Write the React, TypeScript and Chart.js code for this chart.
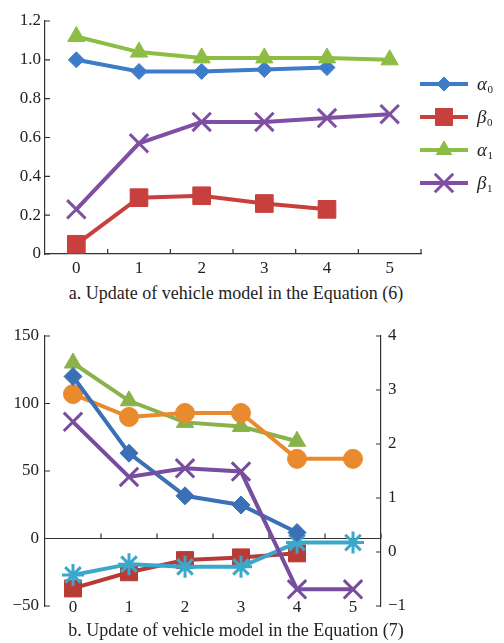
import React, { useEffect, useRef } from 'react';
import { Chart, registerables } from 'chart.js';
import { drawPoint } from 'chart.js/helpers';

Chart.register(...registerables);

// ---------- data ----------
const steps = ['0', '1', '2', '3', '4', '5'];

// chart a (Equation 6)
const alpha0 = [1.0, 0.94, 0.94, 0.95, 0.96, null];
const beta0 = [0.05, 0.29, 0.3, 0.26, 0.23, null];
const alpha1 = [1.12, 1.04, 1.01, 1.01, 1.01, 1.0];
const beta1 = [0.23, 0.57, 0.68, 0.68, 0.7, 0.72];
const yTicksA = [0, 0.2, 0.4, 0.6, 0.8, 1.0, 1.2];

// chart b (Equation 7) — left axis
const s01 = [-37, -25, -16, -14, -11, null];
const s02 = [130, 102, 86, 83, 72, null];
const s11 = [-27, -19, -21, -21, -3, -3];
const s12 = [107, 90, 93, 93, 59, 59];
// chart b — right axis
const s00 = [3.25, 1.83, 1.04, 0.87, 0.36, null];
const s10 = [2.41, 1.39, 1.55, 1.49, -0.69, -0.69];
const yTicksBLeft = [-50, 0, 50, 100, 150];
const yTicksBRight = [-1, 0, 1, 2, 3, 4];

const captionA = 'a. Update of vehicle model in the Equation (6)';
const captionB = 'b. Update of vehicle model in the Equation (7)';

const FONT = '"Liberation Serif", "Times New Roman", serif';
const AXIS = '#333';
const TEXT = '#222';
const TICK_SIZE = 17;

type LegendItem = { main: string; sub: string };

function legendPlugin(
  items: LegendItem[],
  cfg: { x0: number; x1: number; textX: number; ys: number[]; mainSize: number; subSize: number }
) {
  return {
    id: 'customLegend',
    afterDraw(chart: any) {
      const ctx = chart.ctx;
      ctx.save();
      items.forEach((it, i) => {
        const ds = chart.data.datasets[i];
        const y = cfg.ys[i];
        ctx.strokeStyle = ds.borderColor;
        ctx.lineWidth = ds.borderWidth;
        ctx.beginPath();
        ctx.moveTo(cfg.x0, y);
        ctx.lineTo(cfg.x1, y);
        ctx.stroke();
        ctx.fillStyle = ds.pointBackgroundColor;
        ctx.strokeStyle = ds.pointBorderColor;
        ctx.lineWidth = ds.pointBorderWidth;
        drawPoint(
          ctx,
          { pointStyle: ds.pointStyle, radius: ds.legendRadius ?? ds.pointRadius, rotation: 0, borderWidth: ds.pointBorderWidth } as any,
          (cfg.x0 + cfg.x1) / 2,
          y
        );
        ctx.fillStyle = TEXT;
        ctx.textBaseline = 'alphabetic';
        ctx.textAlign = 'left';
        ctx.font = `italic ${cfg.mainSize}px ${FONT}`;
        const base = y + cfg.mainSize * 0.3;
        ctx.fillText(it.main, cfg.textX, base);
        const w = ctx.measureText(it.main).width;
        ctx.font = `${cfg.subSize}px ${FONT}`;
        ctx.fillText(it.sub, cfg.textX + w + 0.5, base + cfg.subSize * 0.3);
      });
      ctx.restore();
    },
  };
}

function axisDecor(zeroLine: boolean, drawXLabels: boolean) {
  return {
    id: 'axisDecor',
    beforeDatasetsDraw(chart: any) {
      const ctx = chart.ctx;
      const { left, right, bottom } = chart.chartArea;
      const x = chart.scales.x;
      const y = chart.scales.y;
      ctx.save();
      ctx.strokeStyle = AXIS;
      ctx.lineWidth = 1.2;
      const baseY = zeroLine ? y.getPixelForValue(0) : bottom;
      if (zeroLine) {
        ctx.beginPath();
        ctx.moveTo(left, baseY);
        ctx.lineTo(right, baseY);
        ctx.stroke();
      }
      const labels: string[] = chart.data.labels;
      const n = labels.length;
      const w = (right - left) / n;
      ctx.beginPath();
      for (let i = 1; i <= n; i++) {
        const px = left + i * w;
        ctx.moveTo(px, baseY);
        ctx.lineTo(px, baseY - 5);
      }
      y.ticks.forEach((t: any) => {
        const py = y.getPixelForValue(t.value);
        ctx.moveTo(left, py);
        ctx.lineTo(left + 5, py);
      });
      const y2 = chart.scales.y2;
      if (y2) {
        y2.ticks.forEach((t: any) => {
          const py = y2.getPixelForValue(t.value);
          ctx.moveTo(right, py);
          ctx.lineTo(right - 5, py);
        });
      }
      ctx.stroke();
      if (drawXLabels) {
        ctx.fillStyle = TEXT;
        ctx.font = `${TICK_SIZE}px ${FONT}`;
        ctx.textAlign = 'center';
        ctx.textBaseline = 'middle';
        labels.forEach((lab, i) => {
          ctx.fillText(lab, x.getPixelForValue(i), bottom + 2);
        });
      }
      ctx.restore();
    },
  };
}

function series(data: (number | null)[], color: string, style: string, radius: number, extra: any = {}) {
  const cross = style === 'crossRot' || style === 'star';
  return {
    data,
    borderColor: color,
    backgroundColor: color,
    borderWidth: 4,
    pointStyle: style,
    pointRadius: radius,
    pointBackgroundColor: color,
    pointBorderColor: color,
    pointBorderWidth: cross ? 3 : 1,
    tension: 0,
    spanGaps: false,
    ...extra,
  };
}

const fmt = (v: number, digits: number) => {
  if (v === 0) return '0';
  const s = digits ? v.toFixed(digits) : String(Math.round(v));
  return v < 0 ? '\u2212' + s.replace('-', '') : s;
};

function ChartA() {
  const ref = useRef<HTMLCanvasElement>(null);
  useEffect(() => {
    const items: LegendItem[] = [
      { main: 'α', sub: '0' },
      { main: 'β', sub: '0' },
      { main: 'α', sub: '1' },
      { main: 'β', sub: '1' },
    ];
    const datasets = [
      series(alpha0, '#3d7cc9', 'rectRot', 8, { legendRadius: 7 }),
      series(beta0, '#c8403d', 'rect', 12.5, { legendRadius: 12 }),
      series(alpha1, '#8dbd45', 'triangle', 10, { legendRadius: 9 }),
      series(beta1, '#7f4fa3', 'crossRot', 13, { legendRadius: 13 }),
    ].map((d, i, a) => ({ ...d, order: a.length - i }));
    const chart = new Chart(ref.current!, {
      type: 'line',
      data: { labels: steps, datasets: datasets as any },
      options: {
        animation: false,
        responsive: false,
        layout: { padding: { top: 21, right: 83, left: 0, bottom: 0 } },
        plugins: { legend: { display: false }, tooltip: { enabled: false } },
        scales: {
          x: {
            type: 'category',
            offset: true,
            grid: { display: true, drawOnChartArea: false, drawTicks: false, offset: true },
            border: { display: true, color: AXIS, width: 1.2 },
            ticks: { padding: 4, color: TEXT, font: { family: FONT, size: TICK_SIZE } },
            afterFit: (s: any) => { s.height = 26; },
          },
          y: {
            min: 0,
            max: 1.2,
            grid: { display: true, drawOnChartArea: false, drawTicks: false },
            border: { display: true, color: AXIS, width: 1.2 },
            afterBuildTicks: (s: any) => { s.ticks = yTicksA.map((v) => ({ value: v })); },
            ticks: { padding: 4, color: TEXT, font: { family: FONT, size: TICK_SIZE }, callback: (v: any) => fmt(Number(v), 1) },
            afterFit: (s: any) => { s.width = 45; },
          },
        },
      },
      plugins: [
        axisDecor(false, false),
        legendPlugin(items, { x0: 420, x1: 468, textX: 477, ys: [84, 117, 150, 183], mainSize: 19, subSize: 11 }),
      ],
    } as any);
    return () => chart.destroy();
  }, []);
  return <canvas ref={ref} width={504} height={280} style={{ position: 'absolute', left: 0, top: 0 }} />;
}

function ChartB() {
  const ref = useRef<HTMLCanvasElement>(null);
  useEffect(() => {
    const items: LegendItem[] = [
      { main: 'S', sub: '01' },
      { main: 'S', sub: '02' },
      { main: 'S', sub: '11' },
      { main: 'S', sub: '12' },
      { main: 'S', sub: '00' },
      { main: 'S', sub: '10' },
    ];
    const datasets = [
      series(s01, '#b93b36', 'rect', 12, { legendRadius: 11, yAxisID: 'y' }),
      series(s02, '#8ab24c', 'triangle', 10, { legendRadius: 8, yAxisID: 'y' }),
      series(s11, '#3aa8cb', 'star', 11, { legendRadius: 10, yAxisID: 'y' }),
      series(s12, '#ea8a2f', 'circle', 9.5, { legendRadius: 7, yAxisID: 'y' }),
      series(s00, '#3b6fb6', 'rectRot', 9, { legendRadius: 7, yAxisID: 'y2' }),
      series(s10, '#774d9e', 'crossRot', 13, { legendRadius: 12, yAxisID: 'y2' }),
    ].map((d, i, a) => ({ ...d, order: a.length - i }));
    const chart = new Chart(ref.current!, {
      type: 'line',
      data: { labels: steps, datasets: datasets as any },
      options: {
        animation: false,
        responsive: false,
        layout: { padding: { top: 26, right: 93, left: 0, bottom: 0 } },
        plugins: { legend: { display: false }, tooltip: { enabled: false } },
        scales: {
          x: {
            type: 'category',
            offset: true,
            grid: { display: true, drawOnChartArea: false, drawTicks: false, offset: true },
            border: { display: false },
            ticks: { display: false },
            afterFit: (s: any) => { s.height = 20; },
          },
          y: {
            position: 'left',
            min: -50,
            max: 150,
            grid: { display: true, drawOnChartArea: false, drawTicks: false },
            border: { display: true, color: AXIS, width: 1.2 },
            afterBuildTicks: (s: any) => { s.ticks = yTicksBLeft.map((v) => ({ value: v })); },
            ticks: { padding: 6, color: TEXT, font: { family: FONT, size: TICK_SIZE }, callback: (v: any) => fmt(Number(v), 0) },
            afterFit: (s: any) => { s.width = 45; },
          },
          y2: {
            position: 'right',
            min: -1,
            max: 4,
            grid: { display: true, drawOnChartArea: false, drawTicks: false },
            border: { display: true, color: AXIS, width: 1.2 },
            afterBuildTicks: (s: any) => { s.ticks = yTicksBRight.map((v) => ({ value: v })); },
            ticks: { padding: 7, color: TEXT, font: { family: FONT, size: TICK_SIZE }, callback: (v: any) => fmt(Number(v), 0) },
            afterFit: (s: any) => { s.width = 30; },
          },
        },
      },
      plugins: [
        axisDecor(true, true),
        legendPlugin(items, { x0: 425, x1: 477, textX: 483, ys: [390, 421, 452, 483, 515, 550], mainSize: 20, subSize: 11 }),
      ],
    } as any);
    return () => chart.destroy();
  }, []);
  return <canvas ref={ref} width={504} height={316} style={{ position: 'absolute', left: 0, top: 310 }} />;
}

const captionStyle: React.CSSProperties = {
  position: 'absolute',
  left: 0,
  width: 472,
  textAlign: 'center',
  fontFamily: FONT,
  fontSize: 18,
  lineHeight: '20px',
  color: TEXT,
  whiteSpace: 'nowrap',
};

export default function App() {
  return (
    <div style={{ position: 'absolute', left: 0, top: 0, width: 504, height: 643, background: '#fff', overflow: 'hidden' }}>
      <ChartA />
      <div style={{ ...captionStyle, top: 283 }}>{captionA}</div>
      <ChartB />
      <div style={{ ...captionStyle, top: 620 }}>{captionB}</div>
    </div>
  );
}
